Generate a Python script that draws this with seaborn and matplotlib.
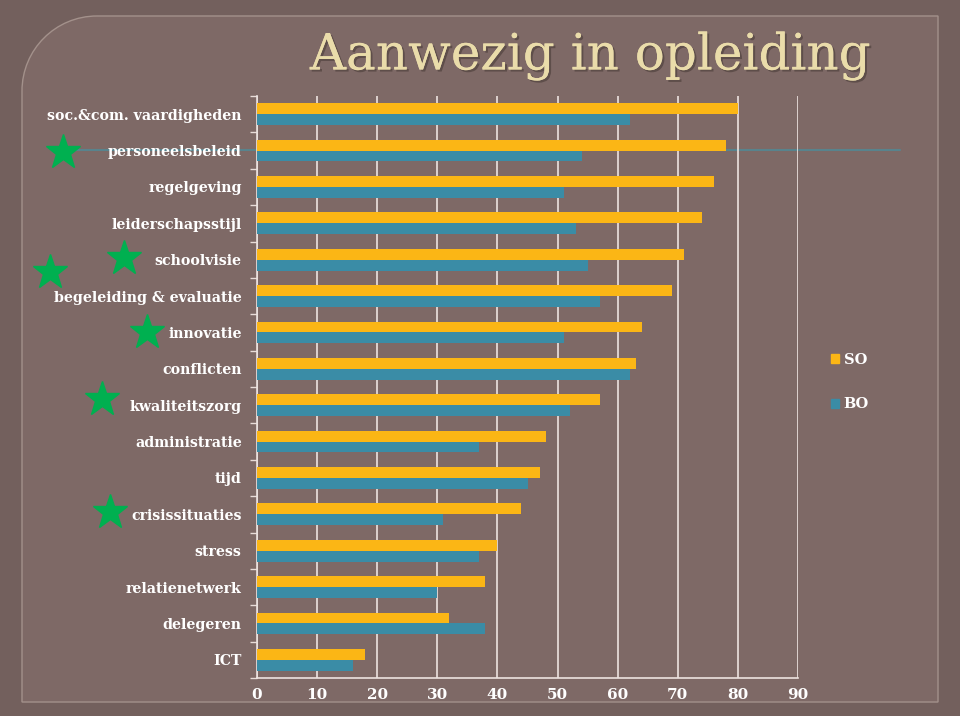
import matplotlib
matplotlib.use("Agg")
import matplotlib.pyplot as plt
import matplotlib.patheffects as pe
import seaborn as sns
import pandas as pd
import numpy as np
from matplotlib.path import Path
from matplotlib.patches import PathPatch, Patch
from matplotlib.lines import Line2D

categories = ["soc.&com. vaardigheden", "personeelsbeleid", "regelgeving", "leiderschapsstijl",
              "schoolvisie", "begeleiding & evaluatie", "innovatie", "conflicten",
              "kwaliteitszorg", "administratie", "tijd", "crisissituaties", "stress",
              "relatienetwerk", "delegeren", "ICT"]
so_values = [80, 78, 76, 74, 71, 69, 64, 63, 57, 48, 47, 44, 40, 38, 32, 18]
bo_values = [62, 54, 51, 53, 55, 57, 51, 62, 52, 37, 45, 31, 37, 30, 38, 16]
series = ["SO", "BO"]
x_ticks = [0, 10, 20, 30, 40, 50, 60, 70, 80, 90]
title = "Aanwezig in opleiding"

df = pd.DataFrame({
    "categorie": categories * 2,
    "waarde": so_values + bo_values,
    "reeks": [series[0]] * len(categories) + [series[1]] * len(categories),
})

sns.set_theme(style="white")
plt.rcParams["font.family"] = ["DejaVu Serif"]

W, H = 960, 716
fig = plt.figure(figsize=(9.6, 7.16), dpi=100)
fig.patch.set_facecolor("#73605d")

# rounded panel (top-left rounded corner)
def px(x, y):
    return (x / W, 1 - y / H)
l, t, r, b, rad = 22, 16, 938, 702, 75
k = 0.5523
verts = [px(l, b), px(l, t + rad), px(l, t + rad - rad * k), px(l + rad - rad * k, t), px(l + rad, t),
         px(r, t), px(r, b), px(l, b)]
codes = [Path.MOVETO, Path.LINETO, Path.CURVE4, Path.CURVE4, Path.CURVE4, Path.LINETO, Path.LINETO, Path.CLOSEPOLY]
panel = PathPatch(Path(verts, codes), transform=fig.transFigure, facecolor="#7e6966",
                  edgecolor="#a3918b", lw=1.0, zorder=-3)
fig.add_artist(panel)

# decorative line
fig.add_artist(Line2D([63 / W, 900 / W], [1 - 150 / H, 1 - 150 / H], transform=fig.transFigure,
                      color="#4f8a98", lw=1.5, alpha=0.8, zorder=-2))

ax = fig.add_axes([257 / W, 1 - 678 / H, (798 - 257) / W, (678 - 96) / H])
ax.set_facecolor("none")
ax.set_zorder(1)

sns.barplot(data=df, y="categorie", x="waarde", hue="reeks", orient="h",
            palette={"SO": "#fbb615", "BO": "#3a8ca6"}, width=0.6, ax=ax,
            saturation=1, errorbar=None, zorder=3, linewidth=0, edgecolor="none")

ax.set_xlim(0, 90)
ax.set_ylim(len(categories) - 0.5, -0.5)
ax.set_xticks(x_ticks)
ax.set_xticklabels([str(v) for v in x_ticks], fontsize=11, fontweight="bold", color="white")
ax.set_yticks(range(len(categories)))
ax.set_yticklabels(categories, fontsize=10.2, fontweight="bold", color="white")
ax.set_yticks(np.arange(-0.5, len(categories), 1), minor=True)
ax.tick_params(axis="y", which="major", length=0, pad=11)
ax.tick_params(axis="y", which="minor", length=5, color="#e8dcd8", width=1, left=True)
ax.tick_params(axis="x", which="major", length=0, pad=7)
ax.set_xlabel("")
ax.set_ylabel("")
ax.grid(axis="x", color="#ede3e0", lw=1.2, zorder=1)
ax.set_axisbelow(True)
for s in ["top", "right"]:
    ax.spines[s].set_visible(False)
for s in ["left", "bottom"]:
    ax.spines[s].set_color("#ede3e0")
    ax.spines[s].set_linewidth(1.2)

leg = ax.legend(handles=[Patch(color="#fbb615"), Patch(color="#3a8ca6")], labels=series,
                loc="center left", bbox_to_anchor=(818 / W, 1 - 382 / H),
                bbox_transform=fig.transFigure, frameon=False,
                handlelength=0.55, handleheight=0.55, handletextpad=0.3, labelspacing=2.1,
                prop={"weight": "bold", "size": 10.5})
for txt in leg.get_texts():
    txt.set_color("white")

# stars
for (sx, sy) in [(63, 152), (124, 258), (50, 272), (147, 332), (102, 399), (110, 512)]:
    fig.add_artist(Line2D([sx / W], [1 - sy / H], transform=fig.transFigure, marker="*",
                          markersize=26, color="#00b050", markeredgecolor="#00b050", zorder=5))

fig.text(590 / W, 1 - 56 / H, title, ha="center", va="center", fontsize=36, color="#eadcaa",
         path_effects=[pe.withSimplePatchShadow(offset=(1.5, -1.5), shadow_rgbFace="#4a3c38", alpha=0.6),
                       pe.Normal()])

fig.savefig("out.png", dpi=100, facecolor=fig.get_facecolor())
